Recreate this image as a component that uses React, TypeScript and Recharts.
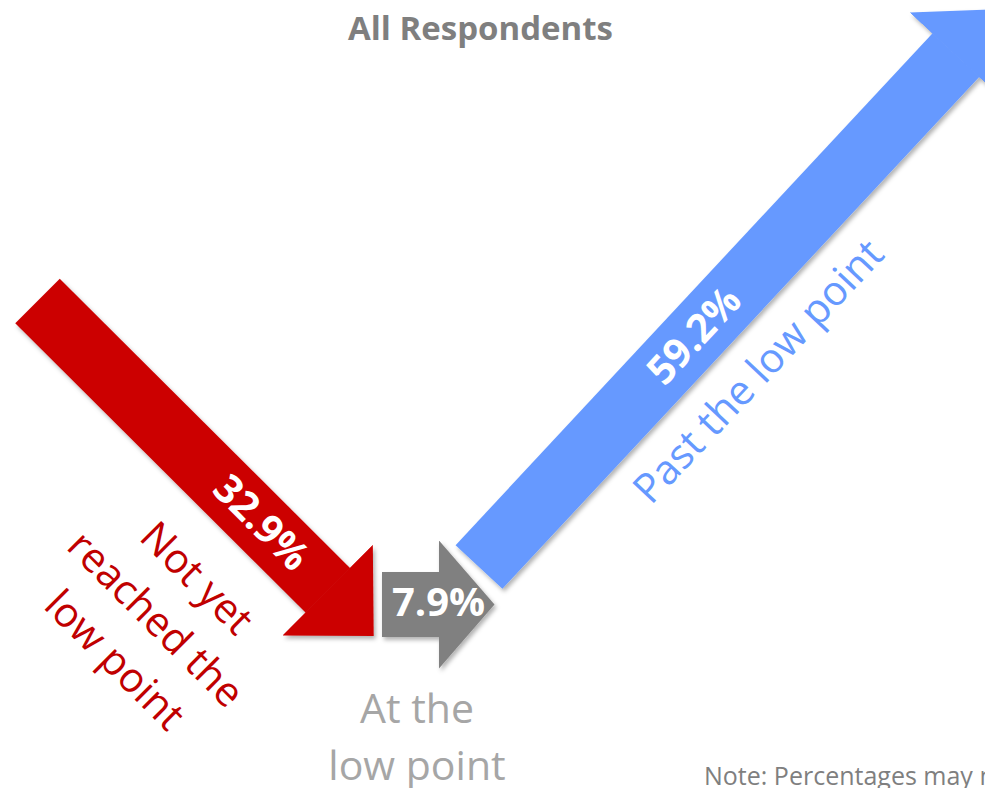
import React from 'react';
import { ComposedChart, Line, Scatter, XAxis, YAxis } from 'recharts';

// ---- data ----
const title = 'All Respondents';
const note = 'Note: Percentages may not add to 100% due to rounding.';
const categories = ['Not yet reached the low point', 'At the low point', 'Past the low point'];
const categoryLines = [['Not yet', 'reached the', 'low point'], ['At the', 'low point'], ['Past the low point']];
const values = [32.9, 7.9, 59.2];

// ---- layout (diagram units on hidden axes, 1 unit = 1px) ----
const W = 985;
const H = 788;
const arrowPaths = [
  [{ x: 37.5, y: 301 }, { x: 328, y: 590.5 }],
  [{ x: 382, y: 604.5 }, { x: 439, y: 604.5 }],
  [{ x: 479, y: 567 }, { x: 956, y: 55 }],
];
const shaftWidths = [63, 65, 64];
const headHalfWidths = [64, 64.5, 63];
const headLengths = [65, 56, 63];
const arrowColors = ['#cc0000', '#808080', '#6699ff'];

const valuePositions = [
  { x: 262, y: 522, angle: 45 },
  { x: 438.5, y: 602, angle: 0 },
  { x: 693.5, y: 335, angle: -47 },
];
const categoryPositions = [
  { x: 187, y: 588, angle: 45, lh: 58 },
  { x: 417, y: 723, angle: 0, lh: 57 },
  { x: 768.5, y: 381, angle: -46.8, lh: 57 },
];
const categoryColors = ['#c00000', '#a6a6a6', '#6699ff'];
const FONT = "'Open Sans', 'Noto Sans', sans-serif";

const valueData = values.map((v, i) => ({ ...valuePositions[i], text: `${v.toFixed(1)}%` }));
const categoryData = categories.map((c, i) => ({ ...categoryPositions[i], lines: categoryLines[i], color: categoryColors[i], name: c }));
const textData = [
  { x: 480.5, y: 40, kind: 'title', text: title },
  { x: 704, y: 785, kind: 'note', text: note },
];

const ValueLabel = (props: any) => {
  const { cx, cy, payload } = props;
  return (
    <text
      x={cx}
      y={cy}
      dy="0.36em"
      textAnchor="middle"
      transform={`rotate(${payload.angle} ${cx} ${cy})`}
      fill="#ffffff"
      fontFamily={FONT}
      fontWeight={700}
      fontSize={40}
    >
      {payload.text}
    </text>
  );
};

const CategoryLabel = (props: any) => {
  const { cx, cy, payload } = props;
  return (
    <text
      textAnchor="middle"
      transform={`rotate(${payload.angle} ${cx} ${cy})`}
      fill={payload.color}
      fontFamily={FONT}
      fontSize={41}
    >
      {payload.lines.map((l: string, i: number) => (
        <tspan key={i} x={cx} y={cy + i * payload.lh}>
          {l}
        </tspan>
      ))}
    </text>
  );
};

const PlainText = (props: any) => {
  const { cx, cy, payload } = props;
  const isTitle = payload.kind === 'title';
  return (
    <text
      x={cx}
      y={cy}
      textAnchor={isTitle ? 'middle' : 'start'}
      fill="#7f7f7f"
      fontFamily={FONT}
      fontWeight={isTitle ? 700 : 400}
      fontSize={isTitle ? 33 : 25}
    >
      {payload.text}
    </text>
  );
};

export default function App() {
  return (
    <div style={{ position: 'absolute', left: 0, top: 0, width: W, height: H, background: '#fff' }}>
      <svg width={0} height={0} style={{ position: 'absolute' }}>
        <defs>
          <filter id="arrowShadow" filterUnits="userSpaceOnUse" x={0} y={0} width={W} height={H}>
            <feDropShadow dx={2} dy={3} stdDeviation={2} floodColor="#000" floodOpacity={0.3} />
          </filter>
          {arrowColors.map((c, i) => (
            <marker
              key={i}
              id={`head${i}`}
              markerUnits="userSpaceOnUse"
              viewBox={`0 0 ${headLengths[i]} ${2 * headHalfWidths[i]}`}
              markerWidth={headLengths[i]}
              markerHeight={2 * headHalfWidths[i]}
              refX={0.5}
              refY={headHalfWidths[i]}
              orient="auto"
            >
              <path d={`M0,0 L${headLengths[i]},${headHalfWidths[i]} L0,${2 * headHalfWidths[i]} Z`} fill={c} />
            </marker>
          ))}
        </defs>
      </svg>
      <ComposedChart width={W} height={H} margin={{ top: 0, right: 0, bottom: 0, left: 0 }}>
        <XAxis type="number" dataKey="x" domain={[0, W]} hide />
        <YAxis type="number" dataKey="y" domain={[0, H]} reversed hide />
        {arrowPaths.map((p, i) => (
          <Line
            key={i}
            data={p}
            dataKey="y"
            type="linear"
            stroke={arrowColors[i]}
            strokeWidth={shaftWidths[i]}
            strokeLinecap="butt"
            markerEnd={`url(#head${i})`}
            filter="url(#arrowShadow)"
            dot={false}
            activeDot={false}
            legendType="none"
            isAnimationActive={false}
          />
        ))}
        <Scatter data={valueData} dataKey="y" shape={ValueLabel} isAnimationActive={false} legendType="none" />
        <Scatter data={categoryData} dataKey="y" shape={CategoryLabel} isAnimationActive={false} legendType="none" />
        <Scatter data={textData} dataKey="y" shape={PlainText} isAnimationActive={false} legendType="none" />
      </ComposedChart>
    </div>
  );
}
